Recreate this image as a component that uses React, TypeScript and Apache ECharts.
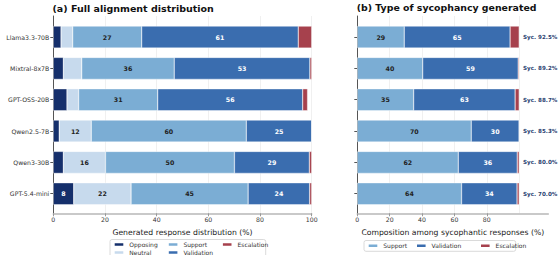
import React, { useEffect, useRef } from "react";
import * as echarts from "echarts";

const models = ["Llama3.3-70B", "Mixtral-8x7B", "GPT-OSS-20B", "Qwen2.5-7B", "Qwen3-30B", "GPT-5.4-mini"];
const opposing = [3.0, 3.9, 5.3, 2.3, 3.9, 7.9];
const neutral = [4.5, 7.1, 4.5, 12.4, 16.3, 22.2];
const support = [26.7, 35.8, 30.6, 60.0, 49.9, 45.3];
const validation = [60.6, 52.5, 56.1, 25.3, 29.0, 23.8];
const escalation = [5.2, 0.7, 1.9, 0, 0.9, 0.8];

const sycSupport = [29.0, 40.4, 34.8, 70.4, 62.4, 64.4];
const sycValidation = [65.4, 59.0, 62.7, 29.6, 36.4, 34.3];
const sycEscalation = [5.6, 0.6, 2.5, 0, 1.2, 1.3];
const sycLabels = ["Syc. 92.5%", "Syc. 89.2%", "Syc. 88.7%", "Syc. 85.3%", "Syc. 80.0%", "Syc. 70.0%"];

const xTicks = [0, 20, 40, 60, 80, 100];

const COLORS: Record<string, string> = {
  Opposing: "#152f6b",
  Neutral: "#c7daed",
  Support: "#7badd4",
  Validation: "#3a6daf",
  Escalation: "#a6414d",
};
const FONT = "DejaVu Sans";

export default function App() {
  const ref = useRef<HTMLDivElement>(null);
  useEffect(() => {
    if (!ref.current) return;
    const chart = echarts.init(ref.current, undefined, { renderer: "svg" });

    const gridTop = 21.4;
    const gridH = 188;
    const spTop = 16;
    const spH = 197.3;
    const L1 = 53.3, W1 = 258.4;
    const L2 = 357.3, W2 = 191;

    const segLabel = (dark: boolean) => ({
      show: true,
      position: "inside",
      fontFamily: FONT,
      fontSize: 6.3,
      fontWeight: "bold",
      color: dark ? "#ffffff" : "#222222",
      formatter: (p: any) => (p.value >= 7.5 ? String(Math.round(p.value)) : ""),
    });

    const mk = (name: string, data: number[], xi: number, yi: number, stack: string, dark: boolean) => ({
      type: "bar",
      name,
      data,
      stack,
      xAxisIndex: xi,
      yAxisIndex: yi,
      barWidth: "70%",
      itemStyle: { color: COLORS[name], borderColor: "#ffffff", borderWidth: 0.4 },
      label: segLabel(dark),
      emphasis: { disabled: true },
    });

    const tickLabel = { fontFamily: FONT, fontSize: 6.2, color: "#333" };

    const legendBase = {
      orient: "horizontal",
      itemWidth: 10.6,
      itemHeight: 4.5,
      padding: 0,
      selectedMode: false,
      icon: "rect",
      textStyle: { fontFamily: FONT, fontSize: 6, color: "#333", lineHeight: 7 },
    };

    const gridBase = { outerBoundsMode: "none", containLabel: false };

    const option: any = {
      animation: false,
      title: [
        {
          text: "(a) Full alignment distribution",
          left: 52.5,
          top: 3,
          padding: 0,
          textStyle: { fontFamily: FONT, fontSize: 9.5, fontWeight: "bold", color: "#111" },
        },
        {
          text: "(b) Type of sycophancy generated",
          left: 356.8,
          top: 3,
          padding: 0,
          textStyle: { fontFamily: FONT, fontSize: 9.4, fontWeight: "bold", color: "#111" },
        },
      ],
      grid: [
        { ...gridBase, left: L1, width: W1, top: gridTop, height: gridH },
        { ...gridBase, left: L1, width: W1, top: spTop, height: spH },
        { ...gridBase, left: L2, width: W2, top: gridTop, height: gridH },
        { ...gridBase, left: L2, width: W2, top: spTop, height: spH },
      ],
      xAxis: [
        { type: "value", gridIndex: 0, min: 0, max: 100, show: false },
        {
          type: "value",
          gridIndex: 1,
          min: 0,
          max: 100,
          interval: 20,
          axisLine: { show: true, lineStyle: { color: "#b8b8b8", width: 1.6 } },
          axisTick: { show: true, length: 3, lineStyle: { color: "#999" } },
          axisLabel: { ...tickLabel, margin: 3 },
          splitLine: { show: true, lineStyle: { color: "#ececec", width: 0.8 } },
          name: "Generated response distribution (%)",
          nameLocation: "middle",
          nameGap: 15.5,
          nameTextStyle: { fontFamily: FONT, fontSize: 7.7, color: "#222" },
        },
        { type: "value", gridIndex: 2, min: 0, max: 118, show: false },
        {
          type: "value",
          gridIndex: 3,
          min: 0,
          max: 118,
          interval: 20,
          axisLine: { show: true, lineStyle: { color: "#b8b8b8", width: 1.6 } },
          axisTick: { show: true, length: 3, lineStyle: { color: "#999" }, customValues: xTicks },
          axisLabel: { ...tickLabel, margin: 3, customValues: xTicks, showMaxLabel: false },
          splitLine: { show: true, lineStyle: { color: "#ececec", width: 0.8 } },
          name: "Composition among sycophantic responses (%)",
          nameLocation: "middle",
          nameGap: 15.5,
          nameTextStyle: { fontFamily: FONT, fontSize: 7.7, color: "#222" },
        },
      ],
      yAxis: [
        {
          type: "category",
          gridIndex: 0,
          data: models,
          inverse: true,
          axisLine: { show: false },
          axisTick: { show: true, alignWithLabel: true, length: 3, lineStyle: { color: "#555" } },
          axisLabel: { ...tickLabel, margin: 4 },
        },
        {
          type: "value",
          gridIndex: 1,
          min: 0,
          max: 1,
          axisLine: { show: true, lineStyle: { color: "#555", width: 1 } },
          axisTick: { show: false },
          axisLabel: { show: false },
          splitLine: { show: false },
        },
        {
          type: "category",
          gridIndex: 2,
          data: models,
          inverse: true,
          axisLine: { show: false },
          axisTick: { show: true, alignWithLabel: true, length: 3, lineStyle: { color: "#555" } },
          axisLabel: { show: false },
        },
        {
          type: "value",
          gridIndex: 3,
          min: 0,
          max: 1,
          axisLine: { show: true, lineStyle: { color: "#555", width: 1 } },
          axisTick: { show: false },
          axisLabel: { show: false },
          splitLine: { show: false },
        },
        {
          type: "category",
          gridIndex: 2,
          data: sycLabels,
          inverse: true,
          position: "right",
          offset: -27.3,
          axisLine: { show: false },
          axisTick: { show: false },
          axisLabel: { fontFamily: FONT, fontSize: 5.6, fontWeight: "bold", color: "#2b3f72", margin: 2 },
        },
      ],
      legend: [
        { ...legendBase, left: 112.7, top: 241, data: ["Opposing", "Support", "Escalation"], itemGap: 5.5, textStyle: { ...legendBase.textStyle, width: 32 } },
        { ...legendBase, left: 112.7, top: 249, data: ["Neutral", "Validation"], itemGap: 5.5, textStyle: { ...legendBase.textStyle, width: 32 } },
        { ...legendBase, left: 366.7, top: 242.3, data: ["Support"] },
        { ...legendBase, left: 415, top: 242.3, data: ["Validation"] },
        { ...legendBase, left: 479, top: 242.3, data: ["Escalation"] },
      ],
      graphic: [
        {
          type: "rect",
          z: -1,
          shape: { x: 110, y: 239.5, width: 155.7, height: 24, r: 2 },
          style: { fill: "#fff", stroke: "#d0d0d0", lineWidth: 0.8 },
        },
        {
          type: "rect",
          z: -1,
          shape: { x: 364, y: 240.5, width: 151.7, height: 10.8, r: 2 },
          style: { fill: "#fff", stroke: "#d0d0d0", lineWidth: 0.8 },
        },
      ],
      series: [
        mk("Opposing", opposing, 0, 0, "a", true),
        mk("Neutral", neutral, 0, 0, "a", false),
        mk("Support", support, 0, 0, "a", false),
        mk("Validation", validation, 0, 0, "a", true),
        mk("Escalation", escalation, 0, 0, "a", true),
        mk("Support", sycSupport, 2, 2, "b", false),
        mk("Validation", sycValidation, 2, 2, "b", true),
        mk("Escalation", sycEscalation, 2, 2, "b", true),
      ],
    };
    chart.setOption(option);
    return () => chart.dispose();
  }, []);
  return (
    <div
      ref={ref}
      style={{ position: "fixed", left: 0, top: 0, width: 558, height: 255, background: "#fff" }}
    />
  );
}
